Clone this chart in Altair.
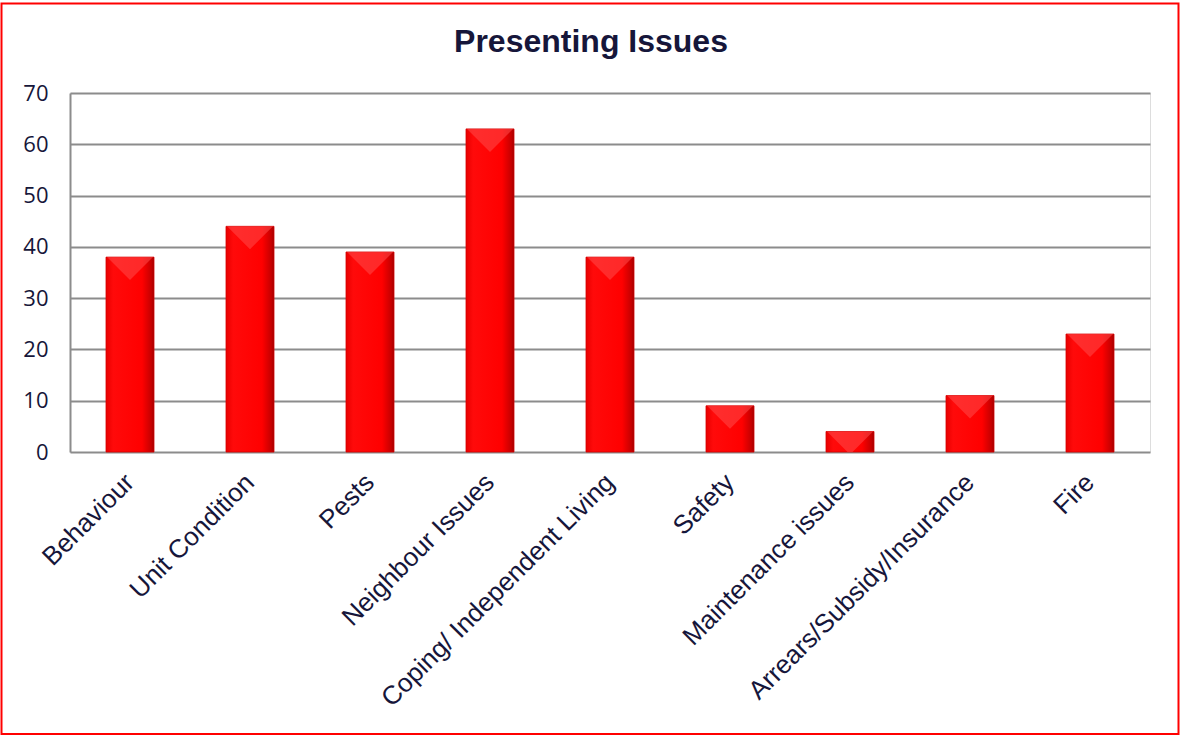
import altair as alt
import pandas as pd

categories = ["Behaviour", "Unit Condition", "Pests", "Neighbour Issues",
              "Coping/ Independent Living", "Safety", "Maintenance issues",
              "Arrears/Subsidy/Insurance", "Fire"]
values = [38, 44, 39, 63, 38, 9, 4, 11, 23]
y_ticks = [0, 10, 20, 30, 40, 50, 60, 70]
title_text = "Presenting Issues"

df = pd.DataFrame({"category": categories, "value": values})

FONT = "Liberation Sans"
TEXT = "#16163a"

bar_fill = alt.Gradient(
    gradient="linear",
    stops=[
        alt.GradientStop(color="#e80000", offset=0),
        alt.GradientStop(color="#ff0a0a", offset=0.15),
        alt.GradientStop(color="#ff0000", offset=0.75),
        alt.GradientStop(color="#c40000", offset=0.95),
        alt.GradientStop(color="#a00000", offset=1),
    ],
    x1=0, x2=1, y1=0, y2=0,
)

x_enc = alt.X("category:N", sort=categories,
              scale=alt.Scale(paddingInner=0.6, paddingOuter=0.3),
              axis=alt.Axis(title=None, labelAngle=-45, labelAlign="right",
                            labelBaseline="middle", labelPadding=26,
                            labelFontSize=26, labelFont=FONT, labelColor=TEXT,
                            domain=False, ticks=False, labelLimit=500))
y_enc = alt.Y("value:Q",
              scale=alt.Scale(domain=[0, 70], nice=False),
              axis=alt.Axis(title=None, values=y_ticks, labelFontSize=22,
                            labelFont="Open Sans", labelColor=TEXT, labelPadding=22,
                            ticks=False, domain=True, domainColor="#8c8c8c",
                            domainWidth=2, grid=True, gridColor="#8c8c8c",
                            gridWidth=2))

bars = alt.Chart(df).mark_bar(
    fill=bar_fill, stroke="#d40000", strokeWidth=0.8
).encode(x=x_enc, y=y_enc)

bevel = alt.Chart(df).mark_point(
    shape="M-1,0 L1,0 L0,1 Z", size=2116, filled=True,
    fill="#ff4a4a", opacity=0.55, strokeWidth=0, clip=True
).encode(x=alt.X("category:N", sort=categories), y="value:Q")

title = alt.Chart(pd.DataFrame({"t": [title_text]})).mark_text(
    font=FONT, fontSize=32, fontWeight="bold", color=TEXT,
    align="center", baseline="alphabetic"
).encode(text="t:N", x=alt.value(521), y=alt.value(-41))

border = alt.Chart(pd.DataFrame({"a": [0]})).mark_rect(
    fill=None, stroke="#ff0000", strokeWidth=2
).encode(
    x=alt.value(-68.5), x2=alt.value(1108.5),
    y=alt.value(-89.5), y2=alt.value(641),
)

chart = alt.layer(bars, bevel, title, border).properties(
    width=1080, height=359,
    autosize=alt.AutoSizeParams(type="none"),
    padding={"left": 70, "top": 93, "right": 31, "bottom": 284},
).configure_view(stroke=None).configure(background="white")

chart.save("out.html", embed_options={"renderer": "svg", "actions": False})
